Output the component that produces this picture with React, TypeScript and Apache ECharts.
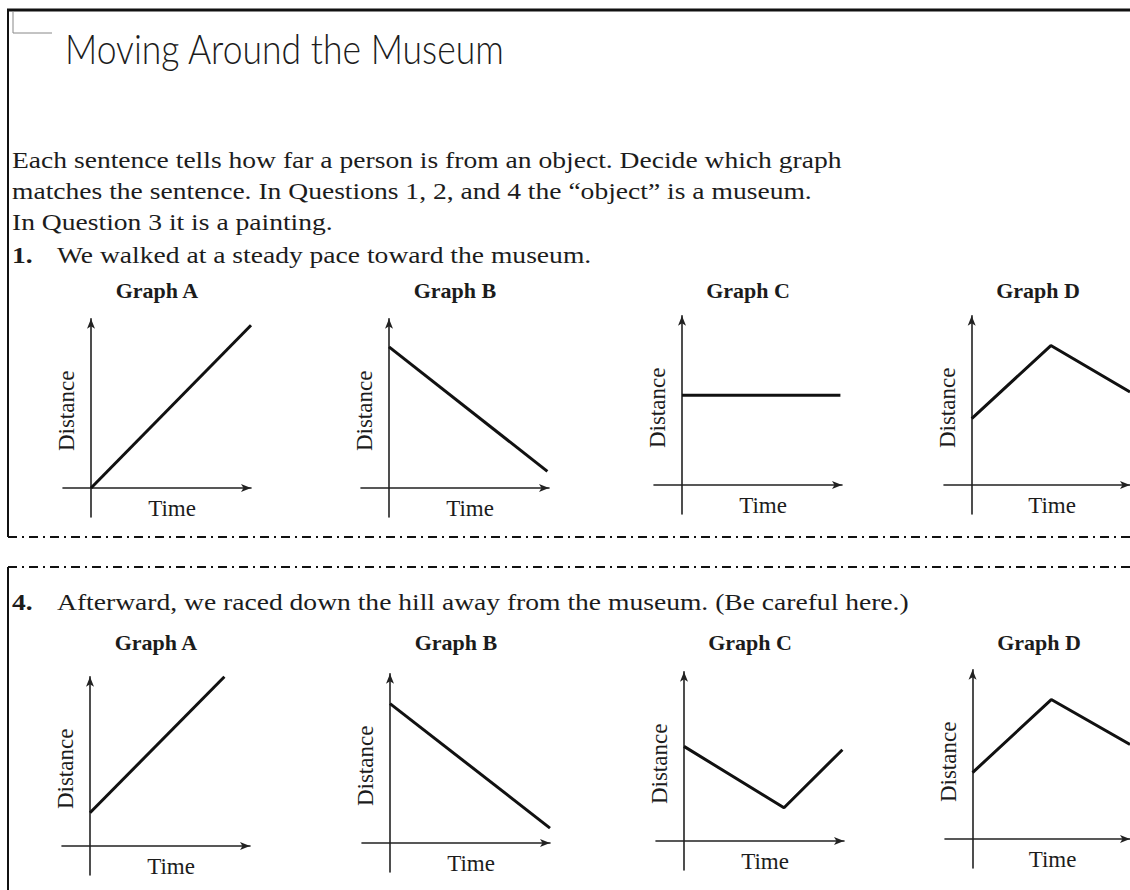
import React, { useEffect, useRef } from 'react';
import * as echarts from 'echarts';

// ---- worksheet text -------------------------------------------------------
const pageTitle = 'Moving Around the Museum';
const introLines = [
  'Each sentence tells how far a person is from an object. Decide which graph',
  'matches the sentence. In Questions 1, 2, and 4 the \u201Cobject\u201D is a museum.',
  'In Question 3 it is a painting.',
];
const questionNumbers = ['1.', '4.'];
const questionTexts = [
  'We walked at a steady pace toward the museum.',
  'Afterward, we raced down the hill away from the museum. (Be careful here.)',
];
const graphLetters = ['A', 'B', 'C', 'D'];
const xAxisName = 'Time';
const yAxisName = 'Distance';

// ---- distance-vs-time sketches: [time, distance], arbitrary units ---------
const q1GraphA = [[0, 0], [10, 9.8]];
const q1GraphB = [[0, 8.5], [9.9, 1]];
const q1GraphC = [[0, 5.4], [9.9, 5.4]];
const q1GraphD = [[0, 4], [5, 8.4], [10, 5.6]];
const q4GraphA = [[0, 2], [8.4, 10.2]];
const q4GraphB = [[0, 8.4], [10, 0.9]];
const q4GraphC = [[0, 5.7], [6.25, 2], [9.9, 5.5]];
const q4GraphD = [[0, 4], [5, 8.4], [10, 5.7]];
const graphSeries = [q1GraphA, q1GraphB, q1GraphC, q1GraphD, q4GraphA, q4GraphB, q4GraphC, q4GraphD];

// ---- layout ----------------------------------------------------------------
const AXIS_MIN = -1.75;
const X_MAX = 10;
const Y_MAX = 10.2;
const PX_X = 16;
const PX_Y = 16.6;
// where the two axes cross in each small plot (page pixels)
const origins = [
  [91, 488], [389, 488], [682, 485], [972, 485],
  [90, 846], [390, 843], [684, 841], [973, 839],
];
const graphTitleRows = [290, 642];
const introRows = [160, 191, 222];
const questionRows = [255, 602];

const INK = '#1c1c1c';
const serif = "'Liberation Serif', 'Times New Roman', serif";
const bodyFont = `23px ${serif}`;
const bodyBoldFont = `bold 23px ${serif}`;
const titleFont = `300 42px Lato, 'Open Sans', sans-serif`;
const graphTitleFont = `bold 22px ${serif}`;

function textWidth(text: string, font: string): number {
  const ctx = document.createElement('canvas').getContext('2d');
  if (!ctx) return 1;
  ctx.font = font;
  return ctx.measureText(text).width || 1;
}

function buildOption() {
  const bodyScale = 830 / textWidth(introLines[0], bodyFont);
  const titleScale = 440 / textWidth(pageTitle, titleFont);

  const grids = origins.map(([ox, oy]) => ({
    left: ox + AXIS_MIN * PX_X,
    top: oy - Y_MAX * PX_Y,
    width: (X_MAX - AXIS_MIN) * PX_X,
    height: (Y_MAX - AXIS_MIN) * PX_Y,
  }));

  const axisLine = {
    show: true,
    onZero: true,
    symbol: ['none', 'arrow'],
    symbolSize: [6, 10],
    lineStyle: { color: '#222', width: 1.6 },
  };
  const nameStyle = { fontFamily: serif, fontSize: 23, color: INK };

  // axis names are laid out from the grid edge, so the gaps are negative
  // to pull them in next to the axes that sit on the origin
  const xAxis = origins.map((_, i) => ({
    gridIndex: i,
    type: 'value',
    min: AXIS_MIN,
    max: X_MAX,
    axisLine,
    axisTick: { show: false },
    axisLabel: { show: false },
    splitLine: { show: false },
    name: xAxisName,
    nameLocation: 'middle',
    nameGap: -20,
    nameTextStyle: { ...nameStyle, padding: [0, 0, 0, 30] },
  }));

  const yAxis = origins.map((_, i) => ({
    gridIndex: i,
    type: 'value',
    min: AXIS_MIN,
    max: Y_MAX,
    axisLine,
    axisTick: { show: false },
    axisLabel: { show: false },
    splitLine: { show: false },
    name: yAxisName,
    nameLocation: 'middle',
    nameRotate: 90,
    nameGap: -15,
    nameTextStyle: { ...nameStyle, padding: [0, 0, 0, 14] },
  }));

  const series = graphSeries.map((data, i) => ({
    type: 'line',
    xAxisIndex: i,
    yAxisIndex: i,
    data,
    symbol: 'none',
    silent: true,
    z: 3,
    lineStyle: { color: '#111', width: 3 },
  }));

  const graphic: any[] = [];
  const line = (x1: number, y1: number, x2: number, y2: number, w: number, dash?: number[], color = '#111') =>
    graphic.push({
      type: 'line',
      silent: true,
      shape: { x1, y1, x2, y2 },
      style: { stroke: color, lineWidth: w, lineDash: dash },
    });

  // page frame and the dash-dot cut lines
  line(7, 10, 1130, 10, 3);
  line(8, 10, 8, 537, 2);
  line(8, 567, 8, 890, 2);
  line(8, 537, 1130, 537, 2, [9, 5, 2, 5]);
  line(8, 567, 1130, 567, 2, [9, 5, 2, 5]);
  graphic.push({
    type: 'polyline',
    silent: true,
    shape: { points: [[13, 12], [13, 33], [52, 33]] },
    style: { stroke: '#888', lineWidth: 1, fill: null },
  });

  const text = (t: string, x: number, y: number, font: string, align = 'left', scaleX = 1) =>
    graphic.push({
      type: 'text',
      silent: true,
      x,
      y,
      scaleX,
      style: { text: t, x: 0, y: 0, font, fill: INK, align, verticalAlign: 'middle' },
    });

  text(pageTitle, 65, 48, titleFont, 'left', titleScale);
  introLines.forEach((t, i) => text(t, 12, introRows[i], bodyFont, 'left', bodyScale));
  questionNumbers.forEach((n, i) => {
    text(n, 12, questionRows[i], bodyBoldFont, 'left', bodyScale);
    text(questionTexts[i], 57, questionRows[i], bodyFont, 'left', bodyScale);
  });
  origins.forEach(([ox], i) => {
    const row = graphTitleRows[Math.floor(i / 4)];
    text(`Graph ${graphLetters[i % 4]}`, ox + 66, row, graphTitleFont, 'center');
  });

  return {
    animation: false,
    backgroundColor: '#fff',
    grid: grids,
    xAxis,
    yAxis,
    series,
    graphic,
  };
}

export default function App() {
  const ref = useRef<HTMLDivElement>(null);
  useEffect(() => {
    if (!ref.current) return;
    const chart = echarts.init(ref.current, undefined, { renderer: 'svg' });
    chart.setOption(buildOption() as any);
    return () => chart.dispose();
  }, []);
  return (
    <div
      ref={ref}
      style={{ position: 'absolute', left: 0, top: 0, width: 1130, height: 890, background: '#fff' }}
    />
  );
}
